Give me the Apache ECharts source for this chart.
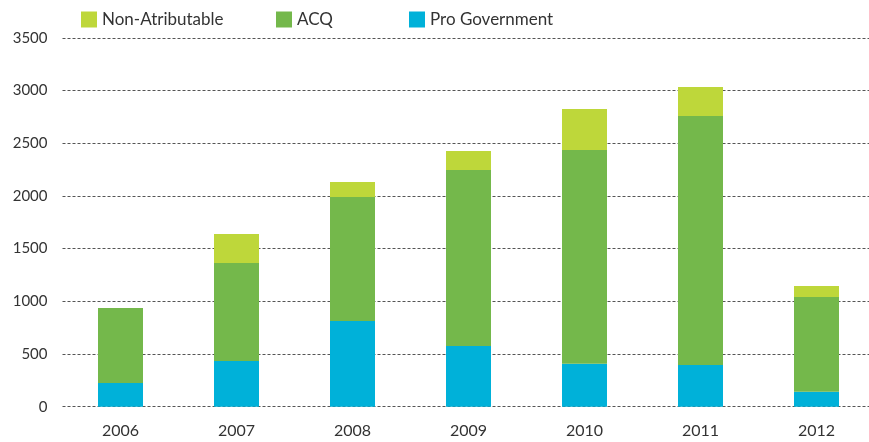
<!DOCTYPE html>
<html>
<head>
<meta charset="utf-8">
<script src="https://cdn.jsdelivr.net/npm/echarts@6/dist/echarts.min.js"></script>
<style>
  html, body { margin: 0; padding: 0; background: #fff; overflow: hidden; }
  /* a little wider than the window: the last column runs past the right edge in the original */
  #chart { width: 875px; height: 442px; }
</style>
</head>
<body>
<div id="chart"></div>
<script>
const years = ["2006", "2007", "2008", "2009", "2010", "2011", "2012"];
const proGovernment = [225, 434, 813, 576, 408, 396, 142];
const acq = [712, 930, 1177, 1670, 2028, 2363, 899];
const nonAtributable = [0, 275, 142, 180, 389, 275, 104];

const FONT = "Lato";
const legendText = { color: "#333", fontSize: 17, fontFamily: FONT };

const chart = echarts.init(document.getElementById("chart"));

// one legend per item so the spacing can follow the picture
const mkLegend = (name, left) => ({
    data: [name],
    left: left,
    top: 6,
    itemWidth: 16,
    itemHeight: 16,
    itemGap: 0,
    icon: "rect",
    selectedMode: false,
    textStyle: legendText,
});

chart.setOption({
    animation: false,
    legend: [
        mkLegend("Non-Atributable", 76),
        mkLegend("ACQ", 271),
        mkLegend("Pro Government", 404),
    ],
    grid: {
        left: 62.5,
        right: 0.5,
        top: 37.8,
        bottom: 35.3,
        containLabel: false,
    },
    xAxis: {
        type: "category",
        data: years,
        axisLine: { show: false },
        axisTick: { show: false },
        axisLabel: {
            color: "#333",
            fontSize: 16,
            fontFamily: FONT,
            margin: 16,
        },
    },
    yAxis: {
        type: "value",
        min: 0,
        max: 3500,
        interval: 500,
        axisLine: { show: false },
        axisTick: { show: false },
        axisLabel: {
            color: "#333",
            fontSize: 15,
            fontFamily: FONT,
            margin: 15,
            formatter: v => String(v),
        },
        splitLine: {
            show: true,
            lineStyle: { color: "#555", type: [3, 2], width: 1 },
        },
    },
    series: [
        {
            name: "Pro Government",
            type: "bar",
            stack: "total",
            barWidth: 45,
            data: proGovernment,
            itemStyle: { color: "#00b1d9" },
        },
        {
            name: "ACQ",
            type: "bar",
            stack: "total",
            barWidth: 45,
            data: acq,
            itemStyle: { color: "#74b84b" },
        },
        {
            name: "Non-Atributable",
            type: "bar",
            stack: "total",
            barWidth: 45,
            data: nonAtributable,
            itemStyle: { color: "#bed73a" },
        },
    ],
});
</script>
</body>
</html>
